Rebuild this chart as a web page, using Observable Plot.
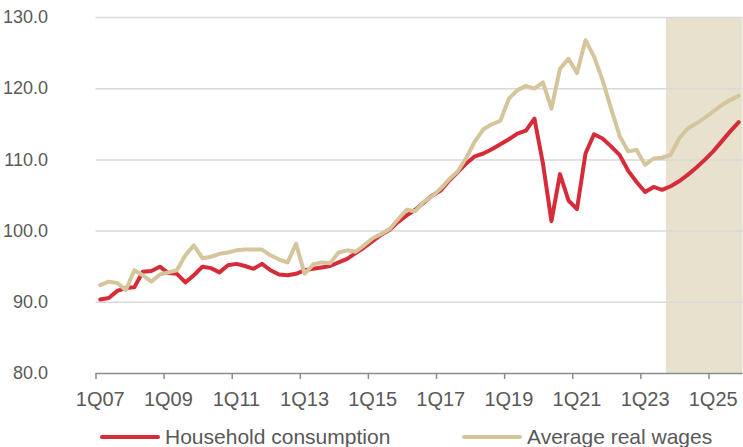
<!DOCTYPE html>
<html>
<head>
<meta charset="utf-8">
<script src="https://cdn.jsdelivr.net/npm/d3@7"></script>
<script src="https://cdn.jsdelivr.net/npm/@observablehq/plot@0.6"></script>
<style>
  html, body { margin: 0; padding: 0; background: #fff; overflow: hidden; }
  #wrap { position: relative; width: 743px; height: 447px; font-family: "Liberation Sans", Arial, sans-serif; color: #595959; }
  #legend { position: absolute; left: 0; top: 424px; width: 743px; height: 26px; }
  .item { position: absolute; top: 0; height: 26px; display: flex; align-items: center; font-size: 21px; white-space: nowrap; }
  .sw { width: 60px; height: 4px; border-radius: 2px; margin-right: 5px; }
</style>
</head>
<body>
<div id="wrap">
  <div id="chart"></div>
  <div id="legend"></div>
</div>
<script>
// ---- data ----
const startYear = 2007;
const endYear = 2025;
const quarters = [];
for (let y = startYear; y <= endYear; y++) {
  for (let q = 1; q <= 4; q++) quarters.push(q + "Q" + String(y % 100).padStart(2, "0"));
}
const tickLabels = ["1Q07", "1Q09", "1Q11", "1Q13", "1Q15", "1Q17", "1Q19", "1Q21", "1Q23", "1Q25"];
const yTicks = [80, 90, 100, 110, 120, 130];
const seriesNames = ["Household consumption", "Average real wages"];
const forecastStart = "4Q23";

const consumption = [
  90.4, 90.6, 91.6, 92.0, 92.1, 94.3, 94.4, 95.0,
  94.1, 94.0, 92.8, 93.8, 95.0, 94.8, 94.2, 95.2,
  95.4, 95.1, 94.7, 95.4, 94.5, 93.9, 93.8, 94.0,
  94.5, 94.7, 94.9, 95.1, 95.6, 96.1, 96.9, 97.7,
  98.6, 99.5, 100.2, 101.3, 102.2, 103.0, 104.0, 105.0,
  105.7, 107.1, 108.3, 109.5, 110.5, 110.9, 111.5, 112.2,
  112.9, 113.7, 114.1, 115.8, 109.5, 101.4, 108.0, 104.3,
  103.1, 110.9, 113.6, 113.0, 111.9, 110.7, 108.5, 106.9,
  105.5, 106.2, 105.8, 106.3, 107.0, 107.9, 108.9, 110.0,
  111.2, 112.6, 114.0, 115.3
];
const wages = [
  92.4, 92.9, 92.7, 91.7, 94.5, 93.8, 92.9, 93.9,
  94.2, 94.5, 96.6, 98.0, 96.2, 96.4, 96.8, 97.0,
  97.3, 97.4, 97.4, 97.4, 96.6, 96.0, 95.6, 98.2,
  94.0, 95.3, 95.6, 95.5, 97.0, 97.3, 97.1, 98.0,
  99.0, 99.6, 100.3, 101.7, 103.0, 102.8, 104.1, 104.9,
  106.0, 107.3, 108.4, 110.3, 112.6, 114.3, 115.0, 115.5,
  118.6, 119.8, 120.4, 120.0, 120.9, 117.2, 122.8, 124.2,
  122.2, 126.8, 124.5, 121.2, 117.2, 113.4, 111.2, 111.4,
  109.3, 110.2, 110.3, 110.7, 113.0, 114.4, 115.1, 115.9,
  116.8, 117.7, 118.4, 119.0
];

// ---- derived tables ----
const colors = ["#d62b38", "#d5c59c"];
const rows = [];
quarters.forEach((q, i) => {
  rows.push({i, q, series: seriesNames[0], v: consumption[i]});
  rows.push({i, q, series: seriesNames[1], v: wages[i]});
});
const n = quarters.length;
const fIdx = quarters.indexOf(forecastStart);
const shade = [{x1: fIdx - 0.5, x2: n - 0.5, y1: yTicks[0], y2: yTicks[yTicks.length - 1]}];
const labelIdx = tickLabels.map(t => quarters.indexOf(t));
const boundaryTicks = labelIdx.map(i => i - 0.5);

const chart = Plot.plot({
  width: 743,
  height: 415,
  marginTop: 17,
  marginBottom: 42,
  marginLeft: 95.5,
  marginRight: 0.5,
  x: {domain: [-0.5, n - 0.5], axis: null},
  y: {domain: [yTicks[0], yTicks[yTicks.length - 1]], axis: null},
  style: {fontFamily: "'Liberation Sans', Arial, sans-serif", background: "white", overflow: "visible"},
  marks: [
    Plot.rect(shade, {x1: "x1", x2: "x2", y1: "y1", y2: "y2", fill: "#e8e1cd"}),
    Plot.ruleY(yTicks.slice(1), {stroke: "#d9d9d9", strokeWidth: 1.5}),
    Plot.line(rows.filter(d => d.series === seriesNames[0]), {x: "i", y: "v", stroke: colors[0], strokeWidth: 4, strokeLinejoin: "round", strokeLinecap: "round"}),
    Plot.line(rows.filter(d => d.series === seriesNames[1]), {x: "i", y: "v", stroke: colors[1], strokeWidth: 4, strokeLinejoin: "round", strokeLinecap: "round"}),
    Plot.ruleY([yTicks[0]], {stroke: "#8c8c8c", strokeWidth: 1.5}),
    Plot.axisX({ticks: boundaryTicks, tickSize: 6, tickFormat: () => "", stroke: "#8c8c8c", strokeWidth: 1.5}),
    Plot.axisX({ticks: labelIdx, tickSize: 0, tickPadding: 18, tickFormat: i => quarters[i], fontSize: 20, fill: "#595959"}),
    Plot.axisY({ticks: yTicks, tickSize: 0, tickPadding: 48, tickFormat: d => d.toFixed(1), fontSize: 18, fill: "#595959"})
  ]
});
document.getElementById("chart").appendChild(chart);

// legend
const legend = document.getElementById("legend");
const lefts = [100, 462];
seriesNames.forEach((name, k) => {
  const it = document.createElement("div");
  it.className = "item";
  it.style.left = lefts[k] + "px";
  const sw = document.createElement("span");
  sw.className = "sw";
  sw.style.background = colors[k];
  const tx = document.createElement("span");
  tx.textContent = name;
  it.appendChild(sw);
  it.appendChild(tx);
  legend.appendChild(it);
});
</script>
</body>
</html>
